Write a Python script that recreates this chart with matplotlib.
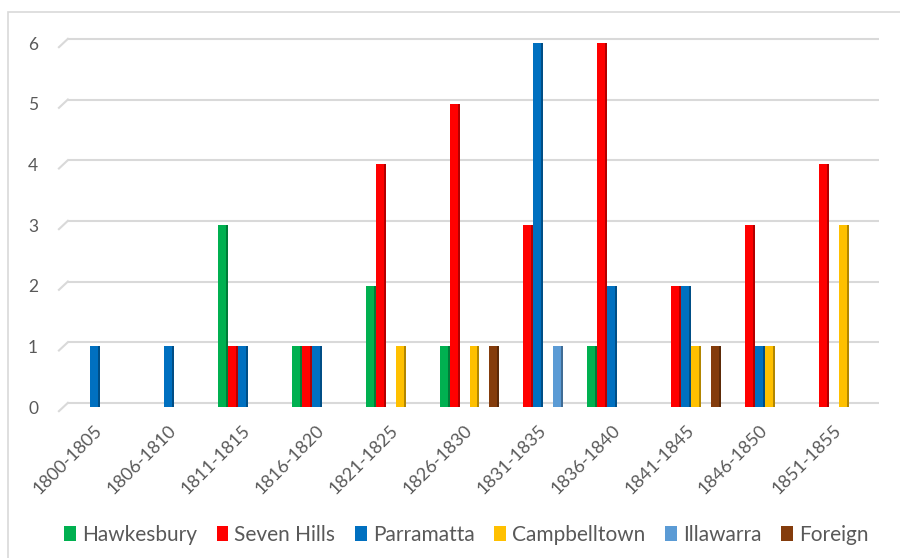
import numpy as np
import matplotlib
matplotlib.use('Agg')
import matplotlib.pyplot as plt
import matplotlib.transforms as mtransforms
from matplotlib.colors import to_rgb
from matplotlib.patches import Rectangle

periods = ['1800-1805', '1806-1810', '1811-1815', '1816-1820', '1821-1825', '1826-1830',
           '1831-1835', '1836-1840', '1841-1845', '1846-1850', '1851-1855']
series_names = ['Hawkesbury', 'Seven Hills', 'Parramatta', 'Campbelltown', 'Illawarra', 'Foreign']
hawkesbury = [0, 0, 3, 1, 2, 1, 0, 1, 0, 0, 0]
seven_hills = [0, 0, 1, 1, 4, 5, 3, 6, 2, 3, 4]
parramatta = [1, 1, 1, 1, 0, 0, 6, 2, 2, 1, 0]
campbelltown = [0, 0, 0, 0, 1, 1, 0, 0, 1, 1, 3]
illawarra = [0, 0, 0, 0, 0, 0, 1, 0, 0, 0, 0]
foreign = [0, 0, 0, 0, 0, 1, 0, 0, 1, 0, 0]
colors = ['#00B050', '#FF0000', '#0070C0', '#FFC000', '#5B9BD5', '#843C0C']

all_series = [hawkesbury, seven_hills, parramatta, campbelltown, illawarra, foreign]

plt.rcParams['font.family'] = ['Lato', 'DejaVu Sans']

fig = plt.figure(figsize=(9, 5.58), dpi=100)
# chart frame (left and top edges visible)
fig.patches.append(Rectangle((8 / 900, -0.1), 1.2, 1 - 12 / 558 + 0.1, transform=fig.transFigure,
                             fill=False, edgecolor='#D9D9D9', linewidth=1.2))

ax = fig.add_axes([63 / 900, 1 - 407 / 558, (876 - 63) / 900, (407 - 43) / 558])

x = np.arange(len(periods))
w = 0.135
dark = lambda c: tuple(v * 0.7 for v in to_rgb(c))

for i, (vals, col, name) in enumerate(zip(all_series, colors, series_names)):
    pos = x + (i - 2.5) * w
    ax.bar(pos - 0.1 * w, vals, width=0.8 * w, color=col, label=name, zorder=3, clip_on=False)
    ax.bar(pos + 0.4 * w, vals, width=0.2 * w, color=dark(col), zorder=3, clip_on=False)

ax.set_xlim(-0.5, len(periods) - 0.5)
ax.set_ylim(0, 6)
ax.set_yticks(range(7))

# back-wall gridlines, shifted up a little with a small diagonal stub (3D look)
base = ax.get_yaxis_transform()
up = base + mtransforms.ScaledTranslation(0, 3 / 72, fig.dpi_scale_trans)
down = base + mtransforms.ScaledTranslation(0, -3 / 72, fig.dpi_scale_trans)
for k in range(7):
    ax.plot([0.006, 1.004], [k, k], transform=up, color='#D9D9D9', lw=1.5, zorder=1,
            clip_on=False, solid_capstyle='butt')
    p0 = down.transform((-0.005, k))
    p1 = up.transform((0.006, k))
    ax.plot([p0[0], p1[0]], [p0[1], p1[1]], transform=None, color='#D9D9D9', lw=1.5,
            zorder=1, clip_on=False)

for s in ax.spines.values():
    s.set_visible(False)
ax.tick_params(axis='both', length=0, colors='#595959')
ax.tick_params(axis='y', pad=18, labelsize=12.5)
ax.set_xticks(x)
ax.set_xticklabels(periods, rotation=45, ha='right', va='center', rotation_mode='anchor',
                   fontsize=13)
ax.tick_params(axis='x', pad=15)

handles, labels = ax.get_legend_handles_labels()
leg = fig.legend(handles, labels, loc='center', bbox_to_anchor=(0.518, 1 - 535 / 558), ncol=6,
                 frameon=False, fontsize=15, handlelength=0.55, handleheight=0.7,
                 handletextpad=0.3, columnspacing=0.95, labelcolor='#595959')

fig.savefig('out.png', dpi=100)
